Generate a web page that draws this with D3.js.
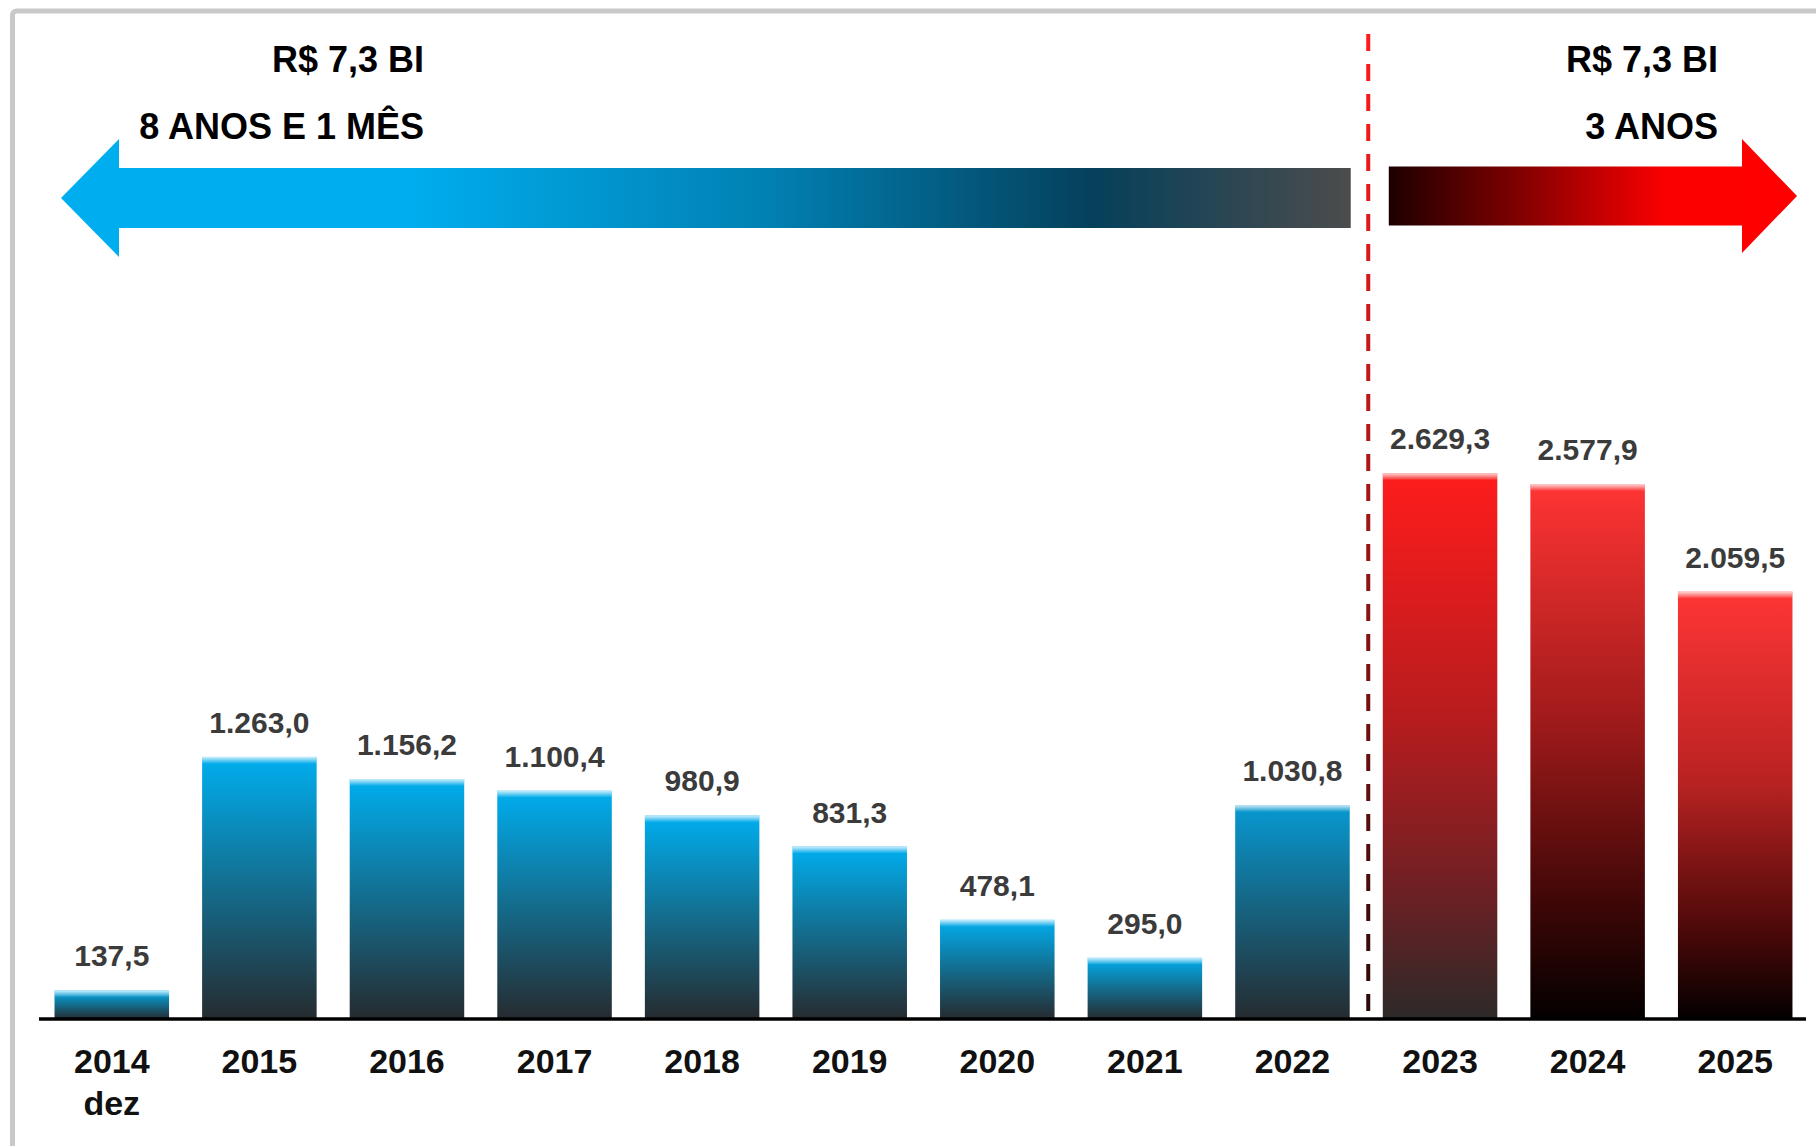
<!DOCTYPE html>
<html>
<head>
<meta charset="utf-8">
<script src="https://cdn.jsdelivr.net/npm/d3@7/dist/d3.min.js"></script>
<style>
  html, body { margin: 0; padding: 0; background: #ffffff; }
  svg { display: block; }
  text { font-family: "Liberation Sans", Arial, Helvetica, sans-serif; font-weight: bold; }
</style>
</head>
<body>
<svg id="chart" width="1816" height="1146"></svg>
<script>
// ---------------- DATA ----------------
const categories = ["2014", "2015", "2016", "2017", "2018", "2019", "2020", "2021", "2022", "2023", "2024", "2025"];
const subLabels  = ["dez", "", "", "", "", "", "", "", "", "", "", ""];
const values     = [137.5, 1263.0, 1156.2, 1100.4, 980.9, 831.3, 478.1, 295.0, 1030.8, 2629.3, 2577.9, 2059.5];
const periods    = ["antes", "antes", "antes", "antes", "antes", "antes", "antes", "antes", "antes", "depois", "depois", "depois"];
const headerLeft  = ["R$ 7,3 BI", "8 ANOS E 1 MÊS"];
const headerRight = ["R$ 7,3 BI", "3 ANOS"];

// ---------------- SETUP ----------------
const W = 1816, H = 1146;
const svg = d3.select("#chart");
const defs = svg.append("defs");

svg.append("rect").attr("width", W).attr("height", H).attr("fill", "#ffffff");

// outer frame (only top & left visible)
svg.append("rect")
  .attr("x", 12.5).attr("y", 11)
  .attr("width", 2000).attr("height", 1400)
  .attr("rx", 4)
  .attr("fill", "none")
  .attr("stroke", "#c9c9c9")
  .attr("stroke-width", 5);

const baseY = 1019;
const x = d3.scaleBand()
  .domain(categories)
  .range([38, 1809])
  .paddingInner(0.224)
  .paddingOuter(0.112);

const y = d3.scaleLinear()
  .domain([0, 3000])
  .range([baseY, baseY - 3000 * 0.2075]);

const ptBR = d3.formatLocale({ decimal: ",", thousands: ".", grouping: [3], currency: ["R$ ", ""] });
const fmt = ptBR.format(",.1f");

// ---------------- GRADIENTS ----------------
function linGrad(id, stops, attrs) {
  const g = defs.append("linearGradient").attr("id", id);
  Object.entries(attrs).forEach(([k, v]) => g.attr(k, v));
  stops.forEach(s => g.append("stop").attr("offset", s[0]).attr("stop-color", s[1]).attr("stop-opacity", s[2] == null ? 1 : s[2]));
  return g;
}

// bar fills (style, keyed by period / category)
const barStops = {
  antes:  [[0, "#00aeef"], [0.45, "#127397"], [1, "#262b2f"]],
  "2022": [[0, "#0799d2"], [0.5, "#17617d"], [1, "#262b2f"]],
  "2023": [[0, "#ff1c1c"], [0.45, "#b71c1e"], [0.78, "#6a2024"], [1, "#2c2a29"]],
  "2024": [[0, "#ff3434"], [0.45, "#9e1a1a"], [0.8, "#3a0606"], [1, "#030000"]],
  "2025": [[0, "#ff3535"], [0.45, "#b82222"], [0.8, "#4a0808"], [1, "#030000"]]
};
categories.forEach((c, i) => {
  const key = barStops[c] ? c : periods[i];
  linGrad("bar" + i, barStops[key], { x1: 0, y1: 0, x2: 0, y2: 1 });
});
linGrad("topFade", [[0, "#ffffff", 0.8], [1, "#ffffff", 0]], { x1: 0, y1: 0, x2: 0, y2: 1 });

// ---------------- ARROWS ----------------
const lastBefore = categories[periods.lastIndexOf("antes")];
const firstAfter = categories[periods.indexOf("depois")];
const divX = (x(lastBefore) + x.bandwidth() + x(firstAfter)) / 2 + 2;

const la = { tip: 61, base: 119, cy: 198, hh: 59, sh: 30, end: x(lastBefore) + x.bandwidth() + 1 };
linGrad("leftArrow",
  [[0, "#00aeef"], [0.27, "#00adee"], [0.55, "#0180b2"], [0.8, "#05405b"], [1, "#4c4c4c"]],
  { gradientUnits: "userSpaceOnUse", x1: la.tip, y1: 0, x2: la.end, y2: 0 });
svg.append("path")
  .attr("d", d3.line()([
    [la.tip, la.cy], [la.base, la.cy - la.hh], [la.base, la.cy - la.sh],
    [la.end, la.cy - la.sh], [la.end, la.cy + la.sh], [la.base, la.cy + la.sh],
    [la.base, la.cy + la.hh]
  ]) + "Z")
  .attr("fill", "url(#leftArrow)");

const ra = { start: x(firstAfter) + 6, base: 1742, tip: 1797, cy: 196, hh: 57, sh: 29.5 };
linGrad("rightArrow",
  [[0, "#1e0000"], [0.3, "#7a0000"], [0.68, "#fb0000"], [1, "#ff0000"]],
  { gradientUnits: "userSpaceOnUse", x1: ra.start, y1: 0, x2: ra.tip, y2: 0 });
svg.append("path")
  .attr("d", d3.line()([
    [ra.start, ra.cy - ra.sh], [ra.base, ra.cy - ra.sh], [ra.base, ra.cy - ra.hh],
    [ra.tip, ra.cy], [ra.base, ra.cy + ra.hh], [ra.base, ra.cy + ra.sh],
    [ra.start, ra.cy + ra.sh]
  ]) + "Z")
  .attr("fill", "url(#rightArrow)");

// ---------------- HEADER TEXT ----------------
const hdr = svg.append("g").attr("font-size", 36).attr("fill", "#000").attr("text-anchor", "end");
hdr.selectAll("text.hl").data(headerLeft).join("text")
  .attr("class", "hl")
  .attr("x", 424)
  .attr("y", (d, i) => 72 + i * 67)
  .text(d => d);
hdr.selectAll("text.hr").data(headerRight).join("text")
  .attr("class", "hr")
  .attr("x", 1718)
  .attr("y", (d, i) => 72 + i * 67)
  .text(d => d);

// ---------------- DIVIDER ----------------
linGrad("divGrad", [[0, "#ff1a1a"], [0.35, "#c01818"], [1, "#2a0808"]],
  { gradientUnits: "userSpaceOnUse", x1: 0, y1: 34, x2: 0, y2: baseY });
svg.append("rect")
  .attr("x", divX - 2).attr("y", 34)
  .attr("width", 4).attr("height", baseY - 34)
  .attr("fill", "url(#divGrad)")
  .attr("mask", "url(#dashMask)");
const mask = defs.append("mask").attr("id", "dashMask").attr("maskUnits", "userSpaceOnUse")
  .attr("x", 0).attr("y", 0).attr("width", W).attr("height", H);
mask.append("line")
  .attr("x1", divX).attr("x2", divX).attr("y1", 34).attr("y2", baseY)
  .attr("stroke", "#fff").attr("stroke-width", 6)
  .attr("stroke-dasharray", "17 13");

// ---------------- BARS ----------------
const data = categories.map((c, i) => ({ c, v: values[i], sub: subLabels[i], i }));

const bars = svg.append("g");
bars.selectAll("rect.bar").data(data).join("rect")
  .attr("class", "bar")
  .attr("x", d => x(d.c))
  .attr("y", d => y(d.v))
  .attr("width", x.bandwidth())
  .attr("height", d => y(0) - y(d.v))
  .attr("fill", d => `url(#bar${d.i})`);
bars.selectAll("rect.fade").data(data).join("rect")
  .attr("class", "fade")
  .attr("x", d => x(d.c))
  .attr("y", d => y(d.v))
  .attr("width", x.bandwidth())
  .attr("height", 7)
  .attr("fill", "url(#topFade)");

// value labels
svg.append("g").attr("font-size", 30).attr("fill", "#3b3b3b").attr("text-anchor", "middle")
  .selectAll("text").data(data).join("text")
  .attr("x", d => x(d.c) + x.bandwidth() / 2)
  .attr("y", d => y(d.v) - 24)
  .text(d => fmt(d.v));

// ---------------- AXIS ----------------
const axis = svg.append("g").attr("transform", `translate(0,${baseY})`)
  .call(d3.axisBottom(x).tickSize(0).tickPadding(0).tickFormat(""));
axis.select(".domain").remove();
svg.append("line")
  .attr("x1", x.range()[0] + 1).attr("x2", x.range()[1] - 3)
  .attr("y1", baseY).attr("y2", baseY)
  .attr("stroke", "#000").attr("stroke-width", 3.5);

const labs = svg.append("g").attr("font-size", 34).attr("fill", "#111").attr("text-anchor", "middle");
labs.selectAll("text.yr").data(data).join("text")
  .attr("class", "yr")
  .attr("x", d => x(d.c) + x.bandwidth() / 2)
  .attr("y", 1073)
  .text(d => d.c);
labs.selectAll("text.sub").data(data.filter(d => d.sub)).join("text")
  .attr("class", "sub")
  .attr("x", d => x(d.c) + x.bandwidth() / 2)
  .attr("y", 1115)
  .text(d => d.sub);
</script>
</body>
</html>
